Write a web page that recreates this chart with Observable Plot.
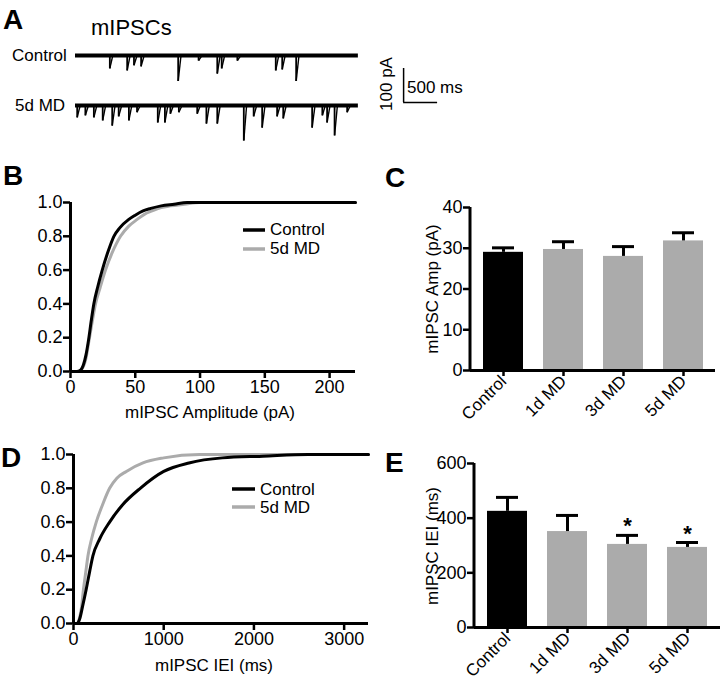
<!DOCTYPE html>
<html>
<head>
<meta charset="utf-8">
<script src="https://cdn.jsdelivr.net/npm/d3@7"></script>
<script src="https://cdn.jsdelivr.net/npm/@observablehq/plot@0.6"></script>
<style>
  html, body { margin: 0; padding: 0; background: #fff; }
  #fig { position: relative; width: 720px; height: 681px; overflow: hidden; background: #fff;
         font-family: "Liberation Sans", Arial, Helvetica, sans-serif; }
  .panel { position: absolute; }
  #overlay { position: absolute; left: 0; top: 0; pointer-events: none; }
</style>
</head>
<body>
<div id="fig"></div>
<script>
// ---------------- DATA ----------------
// Panel A: miniature events (time in ms, amplitude in pA)
const traceDuration = 4160;
const ctrlEventT = [505, 760, 860, 965, 1510, 1810, 2085, 2150, 2380, 2945, 3040, 3245];
const ctrlEventA = [38, 44, 29, 32, 75, 15, 53, 38, 15, 44, 41, 75];
const mdEventT = [25, 145, 270, 400, 540, 635, 785, 905, 1210, 1315, 1395, 1520, 1790, 1925, 2085,
                  2475, 2620, 2745, 2965, 3055, 3480, 3630, 3700, 3810, 3995];
const mdEventA = [35, 29, 35, 44, 59, 32, 44, 20, 50, 50, 24, 20, 24, 53, 53,
                  103, 32, 65, 32, 38, 65, 29, 50, 88, 20];
const scaleBarTime = 500;   // ms
const scaleBarCurrent = 100; // pA

// Panel B: cumulative amplitude distributions
const ampCtrlX = [0, 5, 8, 10, 12, 14, 16, 18, 21, 24.5, 29, 33.5, 38, 45, 50, 56, 62, 70, 80, 90, 110, 220];
const ampCtrlY = [0, 0, 0.01, 0.04, 0.1, 0.19, 0.3, 0.4, 0.5, 0.6, 0.71, 0.8, 0.85, 0.9, 0.925, 0.95, 0.965, 0.98, 0.99, 1.0, 1.0, 1.0];
const ampMdX = [0, 5, 8, 10, 12, 14, 16, 19.3, 23, 27, 32, 38.6, 45, 51.5, 57, 63, 70, 77, 88, 100, 120, 220];
const ampMdY = [0, 0, 0.01, 0.03, 0.08, 0.17, 0.26, 0.4, 0.5, 0.6, 0.7, 0.8, 0.86, 0.9, 0.93, 0.95, 0.97, 0.98, 0.99, 1.0, 1.0, 1.0];
const ampTicksX = [0, 50, 100, 150, 200];
const fracTicks = [0, 0.2, 0.4, 0.6, 0.8, 1.0];

// Panel D: cumulative inter-event interval distributions
const ieiCtrlX = [0, 40, 70, 100, 140, 180, 215, 290, 400, 540, 740, 1000, 1280, 1650, 2100, 2600, 3270];
const ieiCtrlY = [0, 0, 0.03, 0.1, 0.2, 0.31, 0.4, 0.5, 0.6, 0.7, 0.8, 0.9, 0.95, 0.98, 0.99, 1.0, 1.0];
const ieiMdX = [0, 40, 70, 90, 110, 135, 160, 200, 252, 320, 400, 480, 586, 770, 1000, 1400, 3270];
const ieiMdY = [0, 0, 0.04, 0.1, 0.2, 0.3, 0.4, 0.5, 0.6, 0.7, 0.8, 0.86, 0.9, 0.95, 0.98, 1.0, 1.0];
const ieiTicksX = [0, 1000, 2000, 3000];

// Panels C and E: group means and SEM
const groups = ["Control", "1d MD", "3d MD", "5d MD"];
const ampMean = [29.0, 29.7, 28.0, 31.8];
const ampSem = [1.1, 1.9, 2.4, 2.0];
const ieiMean = [425, 351, 304, 293];
const ieiSem = [51, 59, 33, 18];
const ieiSignificant = [false, false, true, true];
const ampTicksY = [0, 10, 20, 30, 40];
const ieiTicksY = [0, 200, 400, 600];

// ---------------- STYLE ----------------
const FONT = '"Liberation Sans", Arial, Helvetica, sans-serif';
const BLACK = "#000";
const GRAY = "#ababab";
const fig = document.getElementById("fig");
function place(node, left, top) {
  const d = document.createElement("div");
  d.className = "panel";
  d.style.left = left + "px";
  d.style.top = top + "px";
  d.appendChild(node);
  fig.appendChild(d);
}
const baseStyle = {fontFamily: FONT, fontSize: "18px", color: "#000", background: "transparent", overflow: "visible"};

// ---------------- PANEL A ----------------
const ctrlOffset = 0, mdOffset = -147; // vertical offsets of the two traces (pA)
function events(T, A, off) { return T.map((t, i) => ({t, a: A[i], off})); }
const evC = events(ctrlEventT, ctrlEventA, ctrlOffset);
const evM = events(mdEventT, mdEventA, mdOffset);
const allEv = evC.concat(evM);
const baselines = [{off: ctrlOffset}, {off: mdOffset}];
const barX0 = 4825, barY0 = -138.2;
const plotA = Plot.plot({
  width: 470, height: 150, marginLeft: 75, marginRight: 21, marginTop: 0, marginBottom: 0,
  style: baseStyle,
  x: {domain: [0, 5500], axis: null},
  y: {domain: [-279.3, 161.7], axis: null},
  marks: [
    Plot.ruleY(baselines, {y: "off", x1: 0, x2: traceDuration, stroke: BLACK, strokeWidth: 4}),
    Plot.link(allEv, {x1: "t", x2: "t", y1: d => d.off + 2, y2: d => d.off - d.a, stroke: BLACK, strokeWidth: 1.8}),
    Plot.link(allEv, {x1: "t", x2: d => d.t + 40, y1: d => d.off - d.a, y2: d => d.off - 3, stroke: BLACK, strokeWidth: 1.4}),
    Plot.ruleX([barX0], {y1: barY0, y2: barY0 + scaleBarCurrent, stroke: BLACK, strokeWidth: 1.5}),
    Plot.ruleY([barY0], {x1: barX0, x2: barX0 + scaleBarTime, stroke: BLACK, strokeWidth: 1.5})
  ]
});
place(plotA, 0, 0);

// ---------------- CDF PANELS ----------------
function cdfPlot(cx, cy, mx, my, xDomain, xTicks, dims) {
  const ctrl = cx.map((x, i) => ({x, y: cy[i]}));
  const md = mx.map((x, i) => ({x, y: my[i]}));
  return Plot.plot({
    ...dims,
    style: baseStyle,
    x: {domain: xDomain},
    y: {domain: [0, 1]},
    marks: [
      Plot.axisX({ticks: xTicks, tickFormat: d => String(d), tickSize: 7, tickPadding: 2, label: null, strokeWidth: 2.5, fontSize: 18}),
      Plot.axisY({ticks: fracTicks, tickFormat: d => d.toFixed(1), tickSize: 7, tickPadding: 1, label: null, strokeWidth: 2.5, fontSize: 18}),
      Plot.line(md, {x: "x", y: "y", stroke: GRAY, strokeWidth: 3, curve: "monotone-x"}),
      Plot.line(ctrl, {x: "x", y: "y", stroke: BLACK, strokeWidth: 3, curve: "monotone-x"}),
      Plot.ruleX([xDomain[0]], {stroke: BLACK, strokeWidth: 3}),
      Plot.ruleY([0], {stroke: BLACK, strokeWidth: 3})
    ]
  });
}
place(cdfPlot(ampCtrlX, ampCtrlY, ampMdX, ampMdY, [0, 220], ampTicksX,
  {width: 370, height: 225, marginLeft: 70, marginRight: 15, marginTop: 12, marginBottom: 44}), 0, 190);
place(cdfPlot(ieiCtrlX, ieiCtrlY, ieiMdX, ieiMdY, [0, 3270], ieiTicksX,
  {width: 370, height: 241, marginLeft: 73, marginRight: 2, marginTop: 14, marginBottom: 58}), 0, 440);

// ---------------- BAR PANELS ----------------
function barPlot(mean, sem, sig, yDomain, yTicks, dims) {
  const table = groups.map((g, i) => ({group: g, mean: mean[i], sem: sem[i], sig: sig ? sig[i] : false}));
  return Plot.plot({
    ...dims,
    style: baseStyle,
    x: {domain: groups, paddingInner: 0.34, paddingOuter: 0.19},
    y: {domain: yDomain},
    color: {type: "identity"},
    marks: [
      Plot.barY(table, {x: "group", y: "mean", fill: d => d.group === "Control" ? BLACK : GRAY}),
      Plot.ruleX(table, {x: "group", y1: "mean", y2: d => d.mean + d.sem, stroke: BLACK, strokeWidth: 3}),
      Plot.tickY(table, {x: "group", y: d => d.mean + d.sem, stroke: BLACK, strokeWidth: 3, insetLeft: 9, insetRight: 9}),
      Plot.text(table.filter(d => d.sig), {x: "group", y: d => d.mean + d.sem, text: () => "*", dy: -9, fontSize: 22, fontWeight: "bold"}),
      Plot.axisX({tickRotate: -45, tickSize: 6, tickPadding: 2, label: null, strokeWidth: 2.5, fontSize: 17}),
      Plot.axisY({ticks: yTicks, tickSize: 7, tickPadding: 1, label: null, strokeWidth: 2.5, fontSize: 18}),
      Plot.ruleY([0], {stroke: BLACK, strokeWidth: 3})
    ]
  });
}
const plotC = barPlot(ampMean, ampSem, null, [0, 40], ampTicksY,
  {width: 350, height: 242, marginLeft: 100, marginRight: 5, marginTop: 17, marginBottom: 62});
place(plotC, 370, 190);
const plotE = barPlot(ieiMean, ieiSem, ieiSignificant, [0, 600], ieiTicksY,
  {width: 350, height: 241, marginLeft: 104, marginRight: 0, marginTop: 23, marginBottom: 54});
place(plotE, 370, 440);

// y-axis lines for bar panels (left edge of the plotting area)
function leftAxisLine(svg, x, y1, y2) {
  const ns = "http://www.w3.org/2000/svg";
  const l = document.createElementNS(ns, "line");
  l.setAttribute("x1", x); l.setAttribute("x2", x);
  l.setAttribute("y1", y1); l.setAttribute("y2", y2);
  l.setAttribute("stroke", BLACK); l.setAttribute("stroke-width", 3);
  svg.appendChild(l);
}
leftAxisLine(plotC, 100, 17, 180);
leftAxisLine(plotE, 104, 23, 187);

// ---------------- TEXT OVERLAY ----------------
const ns = "http://www.w3.org/2000/svg";
const ov = document.createElementNS(ns, "svg");
ov.setAttribute("id", "overlay");
ov.setAttribute("width", 720); ov.setAttribute("height", 681);
ov.setAttribute("font-family", FONT);
fig.appendChild(ov);
function txt(s, x, y, size, opts = {}) {
  const t = document.createElementNS(ns, "text");
  t.textContent = s;
  t.setAttribute("x", x); t.setAttribute("y", y);
  t.setAttribute("font-size", size);
  if (opts.bold) t.setAttribute("font-weight", "bold");
  if (opts.anchor) t.setAttribute("text-anchor", opts.anchor);
  if (opts.rotate) t.setAttribute("transform", `rotate(${opts.rotate} ${x} ${y})`);
  ov.appendChild(t);
}
function seg(x1, y1, x2, y2, color, w) {
  const l = document.createElementNS(ns, "line");
  l.setAttribute("x1", x1); l.setAttribute("y1", y1);
  l.setAttribute("x2", x2); l.setAttribute("y2", y2);
  l.setAttribute("stroke", color); l.setAttribute("stroke-width", w);
  ov.appendChild(l);
}
// panel letters
txt("A", 3, 29, 28, {bold: true});
txt("B", 3, 185, 28, {bold: true});
txt("C", 385, 187, 28, {bold: true});
txt("D", 1, 467, 28, {bold: true});
txt("E", 385, 472, 28, {bold: true});
// panel A labels
txt("mIPSCs", 91, 35, 22);
txt("Control", 12, 61, 17);
txt("5d MD", 15, 111, 17);
txt("100 pA", 392, 84, 17, {anchor: "middle", rotate: -90});
txt("500 ms", 407, 93, 17);
// axis titles
txt("mIPSC Amplitude (pA)", 210, 418, 17, {anchor: "middle"});
txt("mIPSC IEI (ms)", 214, 671, 17, {anchor: "middle"});
txt("mIPSC Amp (pA)", 438, 289, 17, {anchor: "middle", rotate: -90});
txt("mIPSC IEI (ms)", 438, 546, 17, {anchor: "middle", rotate: -90});
// legends
seg(243, 230, 265, 230, BLACK, 3.5); txt("Control", 270, 235, 17);
seg(243, 249, 265, 249, GRAY, 3.5); txt("5d MD", 270, 254, 17);
seg(232, 489, 255, 489, BLACK, 3.5); txt("Control", 260, 495, 17);
seg(232, 507, 255, 507, GRAY, 3.5); txt("5d MD", 260, 513, 17);
</script>
</body>
</html>
